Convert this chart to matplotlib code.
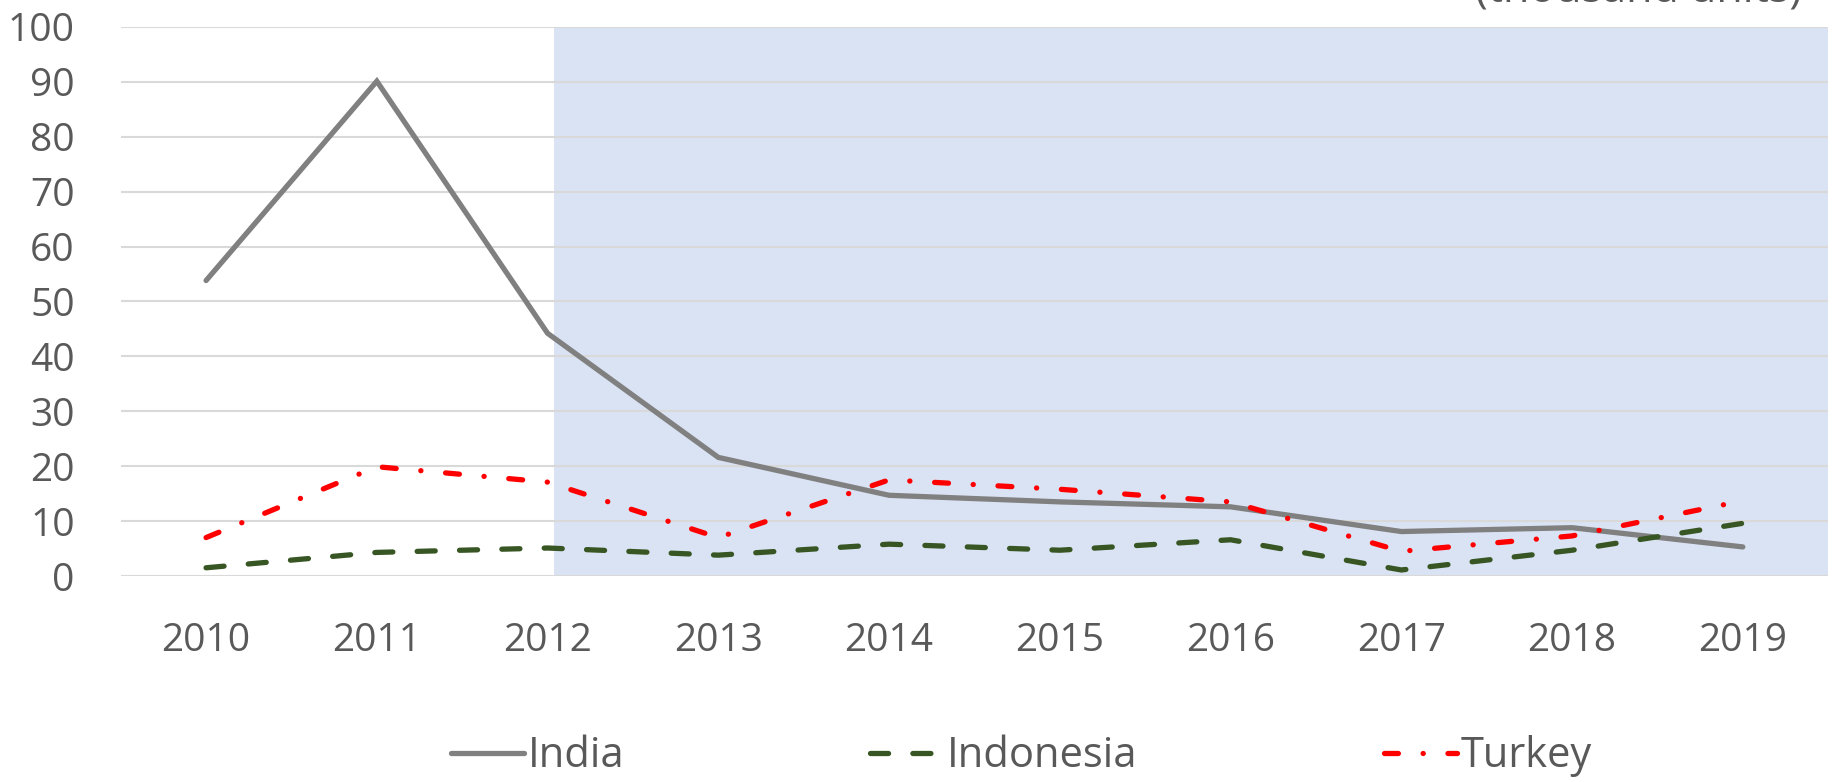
import matplotlib
matplotlib.use("Agg")
import matplotlib.pyplot as plt
import numpy as np

years = ["2010", "2011", "2012", "2013", "2014", "2015", "2016", "2017", "2018", "2019"]
india = [53.8, 90.1, 44.2, 21.6, 14.7, 13.5, 12.6, 8.1, 8.8, 5.3]
indonesia = [1.5, 4.3, 5.1, 3.8, 5.8, 4.7, 6.6, 1.1, 4.7, 9.6]
turkey = [7.0, 19.9, 17.1, 7.0, 17.5, 15.8, 13.5, 4.5, 7.3, 13.7]
yticks = [0, 10, 20, 30, 40, 50, 60, 70, 80, 90, 100]
shade_from = 2.04   # shaded band starts just after 2012

plt.rcParams["font.family"] = ["Open Sans", "DejaVu Sans"]
plt.rcParams["lines.scale_dashes"] = False
TXT = "#595959"

fig = plt.figure(figsize=(18.37, 7.82), dpi=100)
ax = fig.add_axes([0.0657, 0.2634, 0.9295, 0.7023])
xs = np.arange(len(years))

ax.axvspan(shade_from, len(years) - 0.5, color="#dae3f3", zorder=0, lw=0)
ax.grid(axis="y", color="#d9d9d9", lw=1.5, zorder=1)

lw = 3.8
ax.plot(xs, india, color="#808080", lw=lw, solid_capstyle="round",
        solid_joinstyle="miter", label="India", zorder=3)
l2, = ax.plot(xs, indonesia, color="#375623", lw=lw, dash_capstyle="round",
              label="Indonesia", zorder=3)
l2.set_dashes((13, 17.5))
l3, = ax.plot(xs, turkey, color="#ff0000", lw=lw, dash_capstyle="round",
              label="Turkey", zorder=4)
l3.set_dashes((10, 17.8, 0.1, 17.8))

ax.set_xlim(-0.5, len(years) - 0.5)
ax.set_ylim(0, 100)
ax.set_yticks(yticks)
ax.set_xticks(xs)
ax.set_xticklabels(years)
for s in ax.spines.values():
    s.set_visible(False)
ax.tick_params(axis="both", length=0, labelsize=28, labelcolor=TXT)
ax.tick_params(axis="y", pad=33)
ax.tick_params(axis="x", pad=33)

fig.text(0.981, 0.9834, "(thousand units)", ha="right", va="bottom",
         fontsize=31, color=TXT)

leg = fig.legend(loc="center", bbox_to_anchor=(0.556, 0.033), ncol=3,
                 frameon=False, fontsize=30, handlelength=1.75,
                 handletextpad=0.1, columnspacing=5.9, borderaxespad=0)
for t in leg.get_texts():
    t.set_color(TXT)

fig.savefig("out.png", dpi=100)
